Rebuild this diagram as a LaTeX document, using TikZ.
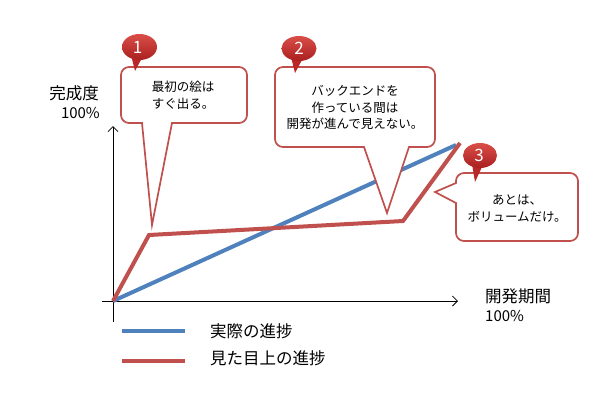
\documentclass[tikz,border=0pt]{standalone}
\usepackage{fontspec}
\setmainfont{Noto Sans CJK JP}
\usetikzlibrary{arrows.meta}
\definecolor{cred}{RGB}{192,80,77}
\definecolor{cblue}{RGB}{79,129,189}
\definecolor{bdark}{RGB}{170,32,32}
\definecolor{blight}{RGB}{218,78,72}
\definecolor{bmid}{RGB}{185,40,38}
\tikzset{
  callout/.style={draw=cred, line width=1.7pt, fill=white, line join=miter},
  badge/.style={top color=blight, bottom color=bdark, draw=none},
  badgetail/.style={fill=bmid, draw=none},
  badgenum/.style={text=white, font=\fontsize{17}{17}\selectfont, inner sep=0pt},
  bubbletext/.style={align=center, font=\fontsize{12.5}{16.7}\selectfont, inner sep=0pt},
  axislabel/.style={font=\fontsize{16.5}{16.5}\selectfont, inner sep=0pt},
  pct/.style={font=\fontsize{15}{15}\selectfont, inner sep=0pt},
  legendtext/.style={font=\fontsize{16.5}{16.5}\selectfont, inner sep=0pt, anchor=west},
  axis/.style={line width=0.8pt, -{Straight Barb[length=5pt,width=10pt]}},
  series/.style={line width=4pt},
}
\begin{document}
\begin{tikzpicture}[x=1pt,y=-1pt]
\useasboundingbox[fill=white] (0,0) rectangle (609,400);

% axes
\coordinate (ytop) at (113,126);
\coordinate (ybot) at (113,322);
\coordinate (xleft) at (102,301);
\coordinate (xright) at (458,301);
\draw[axis] (ybot) -- (ytop);
\draw[axis] (xleft) -- (xright);

% series
\coordinate (o) at (113,301);
\coordinate (bend1) at (149,235);
\coordinate (bend2) at (403,221);
\coordinate (rend) at (460,143);
\coordinate (bend) at (456,145);
\draw[series, cblue] (o) -- (bend);
\draw[series, cred] (o) -- (bend1) -- (bend2) -- (rend);

% callout 1
\path[callout] (129,67) -- (239,67) arc[start angle=270,end angle=360,radius=8]
  -- (247,115) arc[start angle=0,end angle=90,radius=8]
  -- (172,123) -- (152,225) -- (142,123)
  -- (129,123) arc[start angle=90,end angle=180,radius=8]
  -- (121,75) arc[start angle=180,end angle=270,radius=8] -- cycle;
\node[bubbletext] (t1) at (183,95) {最初の絵は\\すぐ出る。};

% callout 2
\path[callout] (283,67) -- (427,67) arc[start angle=270,end angle=360,radius=8]
  -- (435,139) arc[start angle=0,end angle=90,radius=8]
  -- (409,147) -- (387,213) -- (364,147)
  -- (283,147) arc[start angle=90,end angle=180,radius=8]
  -- (275,75) arc[start angle=180,end angle=270,radius=8] -- cycle;
\node[bubbletext] (t2) at (355,107.5) {バックエンドを\\作っている間は\\開発が進んで見えない。};

% callout 3
\path[callout] (464,173) -- (570,173) arc[start angle=270,end angle=360,radius=8]
  -- (578,233) arc[start angle=0,end angle=90,radius=8]
  -- (464,241) arc[start angle=90,end angle=180,radius=8]
  -- (456,203) -- (435,192) -- (456,183)
  -- (456,181) arc[start angle=180,end angle=270,radius=8] -- cycle;
\node[bubbletext] (t3) at (517,208.5) {あとは、\\ボリュームだけ。};

% badges
\path[badgetail] (131,55) -- (135,71) -- (142,58) -- cycle;
\path[badge] (139.5,47) ellipse[x radius=17.5, y radius=13];
\node[badgenum] (b1) at (137.5,47) {1};

\path[badgetail] (291,57) -- (295,73) -- (302,60) -- cycle;
\path[badge] (299,48.5) ellipse[x radius=17.5, y radius=12.5];
\node[badgenum] (b2) at (299,48.5) {2};

\path[badgetail] (472,164) -- (475,182) -- (482,167) -- cycle;
\path[badge] (480,155.5) ellipse[x radius=17, y radius=12.5];
\node[badgenum] (b3) at (479,155.5) {3};

% axis labels
\node[axislabel, anchor=east] (ylab) at (99,93) {完成度};
\node[pct, anchor=east] (ypct) at (100,113) {100\%};
\node[axislabel, anchor=west] (xlab) at (485,296) {開発期間};
\node[pct, anchor=west] (xpct) at (485,316) {100\%};

% legend
\coordinate (l1a) at (122,331); \coordinate (l1b) at (185,331);
\coordinate (l2a) at (122,361); \coordinate (l2b) at (185,361);
\draw[series, cblue] (l1a) -- (l1b);
\draw[series, cred] (l2a) -- (l2b);
\node[legendtext] (lg1) at (210,331) {実際の進捗};
\node[legendtext] (lg2) at (210,358) {見た目上の進捗};
\end{tikzpicture}
\end{document}
